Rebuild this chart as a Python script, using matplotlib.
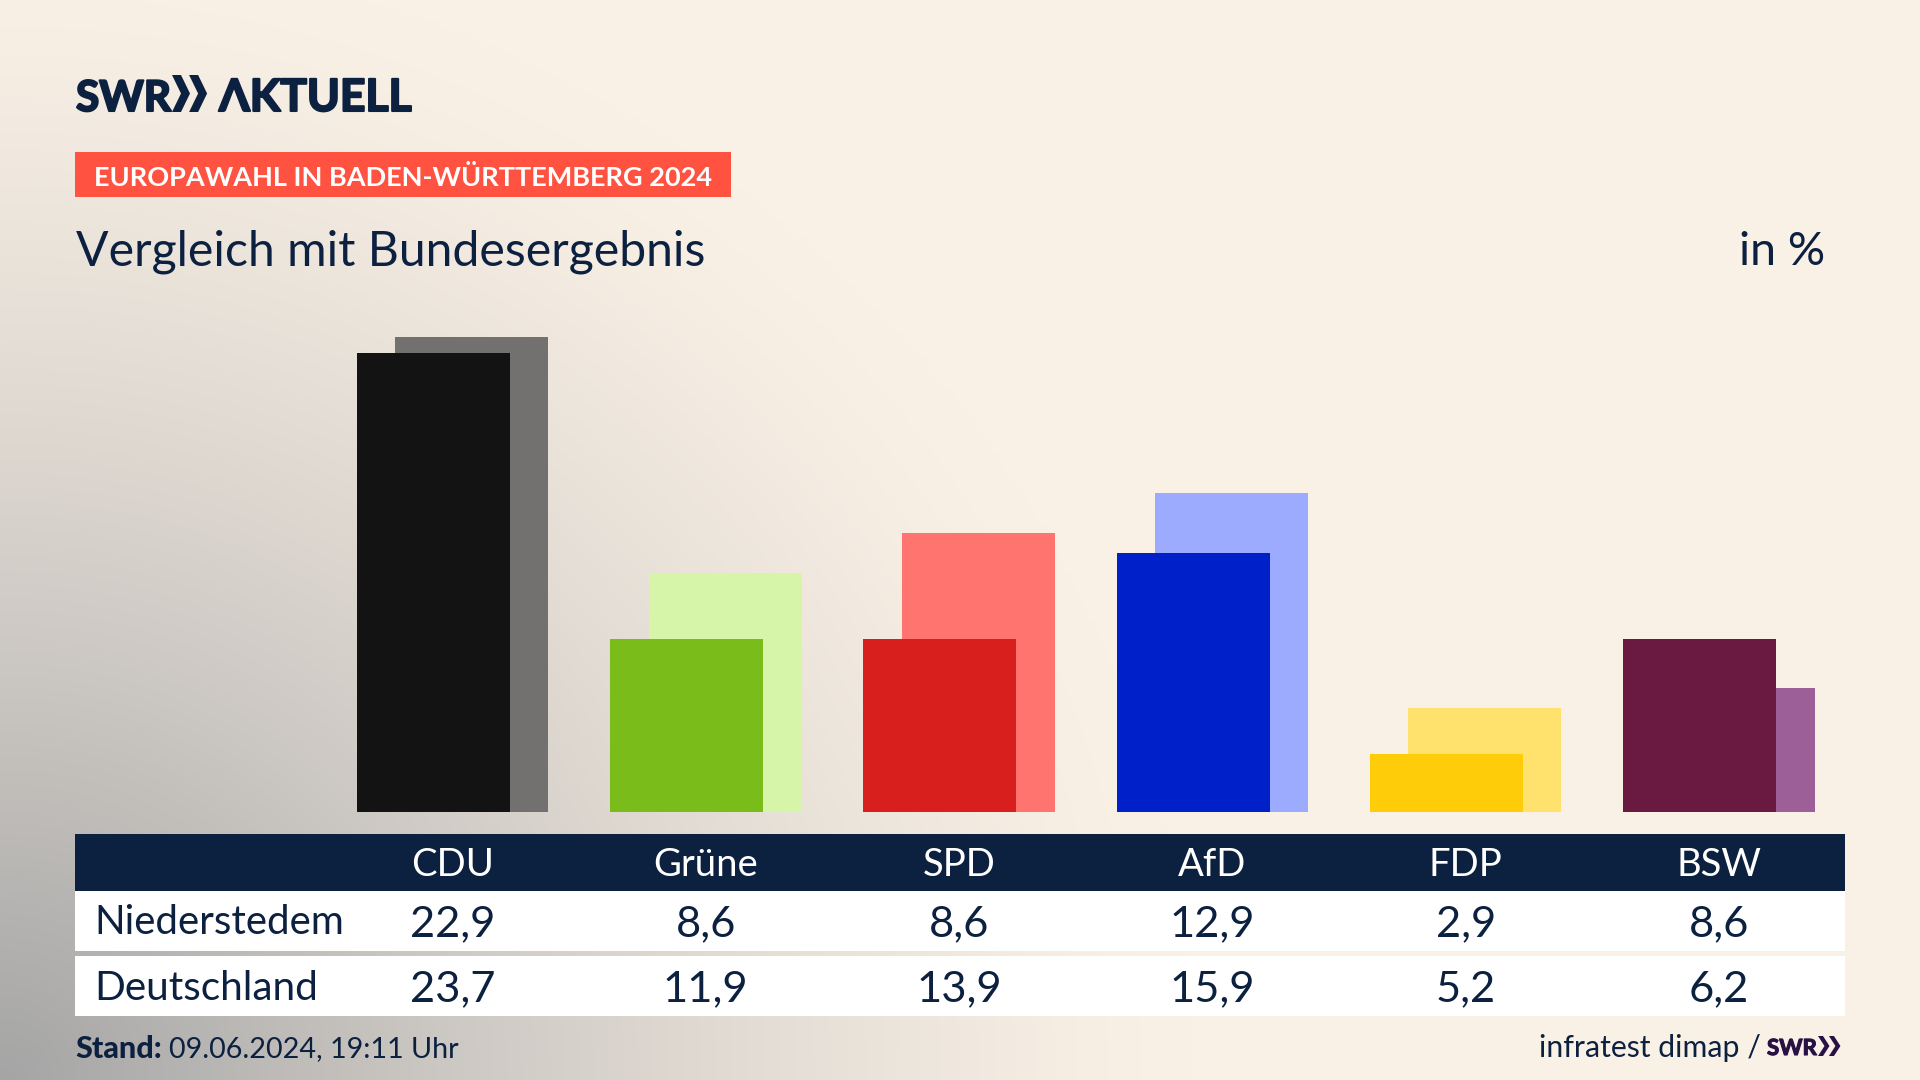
import matplotlib
matplotlib.use('Agg')
import matplotlib.pyplot as plt
import matplotlib.patheffects as pe
import numpy as np

OUTPUT_IMAGE_PATH = 'out.png'
NAVY = '#0c2040'
PARTIES = ['CDU', 'Grüne', 'SPD', 'AfD', 'FDP', 'BSW']
NIEDERSTEDEM = [22.9, 8.6, 8.6, 12.9, 2.9, 8.6]
DEUTSCHLAND = [23.7, 11.9, 13.9, 15.9, 5.2, 6.2]
DARK_COLORS = ['#131313', '#7abd1b', '#d81f1e', '#0021c9', '#ffcc0a', '#6a1a40']
LIGHT_COLORS = ['#73716f', '#d6f5a8', '#ff746e', '#9dabff', '#ffe26e', '#9c5f98']

def draw_chevrons(x, top, height, width, thick, color):
    """
    Draws the two arrow heads of the logo, in pixels of the page.
    """
    mid = top + height / 2
    for left in (x, x + width * 0.95):
        plt.fill([left, left + thick, left + width, left + thick, left, left + width - thick],
                 [top, top, mid, top + height, top + height, mid], color=color, lw=0)

def generate_plot():
    """
    Generates the comparison of the two election results as bars above
    a small table and saves it as a PNG image.
    """
    plt.rcParams['font.family'] = ['Lato', 'DejaVu Sans']
    plt.figure(figsize=(19.2, 10.8), dpi=100)

    # Page in pixels, with the grey shade coming in from the lower left corner
    plt.axes([0, 0, 1, 1])
    xx, yy = np.meshgrid(np.linspace(0, 1, 320), np.linspace(0, 1, 180))
    shade = np.clip(1 - np.sqrt((xx / 0.62) ** 2 + ((1 - yy) / 1.05) ** 2), 0, 1) ** 1.3
    cream = np.array([250, 241, 230]) / 255
    grey = np.array([165, 165, 165]) / 255
    page = cream + (grey - cream) * shade[..., None]
    plt.imshow(page, extent=(0, 1920, 1080, 0), aspect='auto', interpolation='bilinear')
    plt.xlim(0, 1920)
    plt.ylim(1080, 0)
    plt.axis('off')

    # Logo
    heavy = [pe.withStroke(linewidth=1.5, foreground=NAVY)] # the logo is heavier than the font
    plt.text(76, 111, 'SWR', fontsize=30.5, fontweight='bold', color=NAVY, va='baseline', path_effects=heavy)
    draw_chevrons(172, 75, 37, 18, 9, NAVY)
    plt.text(219, 111, 'ΛKTUELL', fontsize=32, fontweight='bold', color=NAVY, va='baseline', path_effects=heavy)

    # Headings
    plt.gca().add_patch(plt.Rectangle((75, 152), 656, 45, color='#ff5240', lw=0))
    plt.text(94, 177, 'EUROPAWAHL IN BADEN-WÜRTTEMBERG 2024', fontsize=19.5, fontweight='bold',
             color='white', va='center')
    plt.text(76, 252, 'Vergleich mit Bundesergebnis', fontsize=34.7, color=NAVY, va='center')
    plt.text(1825, 252, 'in %', fontsize=33.5, color=NAVY, va='center', ha='right')

    # Table
    plt.gca().add_patch(plt.Rectangle((75, 834), 1770, 57, color=NAVY, lw=0))
    plt.gca().add_patch(plt.Rectangle((75, 891), 1770, 60, color='white', lw=0))
    plt.gca().add_patch(plt.Rectangle((75, 956), 1770, 60, color='white', lw=0))
    plt.text(94, 923, 'Niederstedem', fontsize=29, color=NAVY, va='center')
    plt.text(94, 989, 'Deutschland', fontsize=29.2, color=NAVY, va='center')
    for i, party in enumerate(PARTIES):
        center = 452.5 + 253.3 * i
        plt.text(center, 865, party, fontsize=27.5, color='white', va='center', ha='center')
        plt.text(center, 924, f'{NIEDERSTEDEM[i]:.1f}'.replace('.', ','), fontsize=31.3,
                 color=NAVY, va='center', ha='center')
        plt.text(center, 989, f'{DEUTSCHLAND[i]:.1f}'.replace('.', ','), fontsize=31.3,
                 color=NAVY, va='center', ha='center')

    # Footer
    plt.text(75, 1049, 'Stand:', fontsize=22, fontweight='black', color=NAVY, va='center')
    plt.text(169, 1049, '09.06.2024, 19:11 Uhr', fontsize=20.7, color=NAVY, va='center')
    plt.text(1761, 1048, 'infratest dimap /', fontsize=21.8, color=NAVY, va='center', ha='right')
    plt.text(1767, 1055, 'SWR', fontsize=16, fontweight='bold', color='#2a1145', va='baseline',
             path_effects=[pe.withStroke(linewidth=0.8, foreground='#2a1145')])
    draw_chevrons(1818, 1036, 20, 11.5, 5, '#2a1145')
    plt.xlim(0, 1920)
    plt.ylim(1080, 0)

    # Bars: one unit on the y axis is 20.06 pixels, one party is 253.3 pixels
    plt.axes([325.85 / 1920, 1 - 812 / 1080, 1519.8 / 1920, 501.5 / 1080])
    positions = np.arange(len(PARTIES))
    plt.bar(positions + 0.076, DEUTSCHLAND, width=0.604, color=LIGHT_COLORS)
    plt.bar(positions - 0.076, NIEDERSTEDEM, width=0.604, color=DARK_COLORS)
    plt.xlim(-0.5, 5.5)
    plt.ylim(0, 25)
    plt.axis('off')

    plt.savefig(OUTPUT_IMAGE_PATH, dpi=100)
    print(f"Plot saved to {OUTPUT_IMAGE_PATH}")

if __name__ == '__main__':
    generate_plot()
